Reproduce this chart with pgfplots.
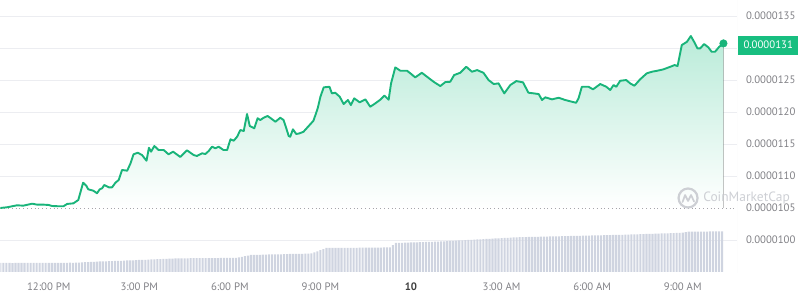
\documentclass[border=0pt]{standalone}
\usepackage{pgfplots}
\pgfplotsset{compat=1.18}
\usepgfplotslibrary{fillbetween}
\usepackage{pgfplotstable}
\usepackage{fontspec}
\setmainfont{PT Sans}
\definecolor{linegreen}{RGB}{25,180,122}
\definecolor{badgegreen}{RGB}{24,190,128}
\definecolor{labelgray}{RGB}{128,128,133}
\definecolor{gridgray}{RGB}{236,237,241}
\definecolor{volgray}{RGB}{207,212,224}
\definecolor{wmgray}{RGB}{205,207,212}
\definecolor{dotgray}{RGB}{165,165,170}

% price in units of 1e-7, time in hours after 12:00 PM
\pgfplotstableread{
h v
-1.60 105.00
-1.38 105.11
-1.05 105.42
-0.84 105.36
-0.55 105.67
-0.38 105.52
-0.17 105.52
0.00 105.47
0.11 105.31
0.32 105.27
0.49 105.27
0.61 105.63
0.82 105.73
0.98 106.25
1.14 108.95
1.25 108.44
1.31 107.92
1.48 107.70
1.60 107.30
1.69 107.92
1.77 108.08
1.84 108.59
1.99 108.23
2.10 108.23
2.21 108.95
2.32 109.38
2.43 110.94
2.60 110.83
2.71 111.98
2.81 113.39
2.95 113.64
3.09 113.28
3.24 112.39
3.32 114.42
3.39 113.80
3.50 114.69
3.64 114.06
3.81 114.06
3.97 113.39
4.12 113.80
4.36 112.97
4.58 114.02
4.80 113.28
4.91 113.13
5.08 113.55
5.19 113.44
5.30 113.91
5.41 114.58
5.52 114.33
5.63 114.58
5.79 114.06
5.91 114.06
6.02 115.73
6.13 115.52
6.24 116.14
6.35 117.19
6.46 117.03
6.57 119.69
6.66 117.81
6.81 117.45
6.92 119.02
7.01 118.75
7.12 119.11
7.25 119.38
7.36 119.02
7.51 118.48
7.67 119.11
7.78 118.75
7.87 117.45
7.95 116.25
8.00 116.14
8.09 117.30
8.20 116.56
8.31 116.67
8.44 116.92
8.61 117.81
8.77 118.64
8.91 120.58
9.00 122.39
9.11 123.86
9.30 123.95
9.38 122.92
9.49 123.02
9.64 122.39
9.77 121.25
9.91 121.88
10.01 121.09
10.12 122.14
10.30 121.52
10.49 121.98
10.65 120.83
10.82 121.36
10.98 121.92
11.12 122.58
11.26 121.92
11.34 124.48
11.48 126.98
11.65 126.45
11.87 126.45
11.98 126.05
12.14 125.42
12.36 126.14
12.53 125.52
12.75 124.73
12.97 124.06
13.14 124.69
13.30 124.73
13.43 125.78
13.63 126.14
13.83 127.08
14.02 126.30
14.19 126.56
14.40 126.14
14.57 125.00
14.74 124.38
14.90 124.48
15.09 122.92
15.29 124.22
15.49 124.84
15.71 124.64
15.89 123.02
16.06 122.92
16.23 122.81
16.34 121.88
16.45 122.30
16.67 121.98
16.89 122.23
17.11 121.88
17.33 121.61
17.47 121.45
17.55 122.14
17.66 123.95
17.88 123.95
18.03 123.55
18.27 124.38
18.47 123.95
18.60 123.44
18.71 124.22
18.80 123.95
18.93 124.89
19.13 125.00
19.26 124.48
19.40 124.11
19.59 125.11
19.81 126.05
19.98 126.30
20.15 126.45
20.36 126.67
20.59 127.08
20.73 127.34
20.83 127.19
20.97 130.47
21.14 130.98
21.27 131.88
21.36 131.14
21.49 129.95
21.58 129.95
21.71 130.63
21.85 130.11
21.96 129.42
22.07 129.42
22.21 130.20
22.35 130.73
}\pricetable

\begin{document}
\begin{tikzpicture}[x=1pt,y=1pt]
\begin{axis}[at={(0,0)}, anchor=south west, scale only axis,
  width=737pt, height=273pt,
  xmin=-1.60, xmax=22.80, ymin=94.84, ymax=137.5,
  axis line style={draw=none}, major tick length=0pt,
  xtick={0,3,6,9,12,15,18,21},
  xticklabels={12:00 PM,3:00 PM,6:00 PM,9:00 PM,{\color{black!75}\textbf{10}},3:00 AM,6:00 AM,9:00 AM},
  ytick={100,110,115,120,125,130,135},
  yticklabels={0.0000100,0.0000110,0.0000115,0.0000120,0.0000125,,0.0000135},
  extra y ticks={105}, extra y tick labels={0.0000105},
  extra y tick style={grid=none},
  yticklabel pos=right, ymajorgrids,
  grid style={gridgray, line width=0.8pt},
  tick label style={font=\fontsize{10.8}{12}\selectfont, text=labelgray},
  xticklabel style={yshift=-6.5pt},
  yticklabel style={anchor=west, xshift=5.5pt},
]
\addplot[draw=none, name path=price, forget plot] table[x=h,y=v] {\pricetable};
\addplot[draw=none, name path=base, forget plot] coordinates {(-1.60,105)(22.35,105)};
\addplot[top color=badgegreen!30, bottom color=white, draw=none] fill between[of=price and base];
\addplot[dotgray, line width=0.8pt, dash pattern=on 0.8pt off 3pt] coordinates {(-1.60,105)(22.80,105)};
\addplot[linegreen, line width=1.9pt, line join=round] table[x=h,y=v] {\pricetable};
\addplot[only marks, mark=*, mark size=3.8pt, mark options={fill=linegreen, draw=linegreen}] coordinates {(22.35,130.73)};
\draw[gridgray, line width=0.8pt] (rel axis cs:1,0) -- (rel axis cs:1,1);
\draw[gridgray, line width=0.8pt] (rel axis cs:0,0) -- (rel axis cs:1,0);
\end{axis}
\begin{axis}[at={(0,0)}, anchor=south west, scale only axis,
  width=737pt, height=273pt,
  xmin=-1.60, xmax=22.80, ymin=-1, ymax=272, hide axis]
\addplot[ybar, bar width=0.07, bar shift=0pt, fill=volgray, draw=none] coordinates {
(-1.6,9.0)(-1.5,9.0)(-1.4,9.1)(-1.3,9.0)(-1.2,8.9)(-1.1,9.0)(-1.0,9.1)(-0.9,9.0)(-0.8,9.0)(-0.7,9.1)(-0.6,9.0)(-0.5,9.0)(-0.4,9.1)(-0.3,9.2)(-0.2,9.1)(-0.1,9.0)(0.0,9.1)(0.1,9.2)(0.2,9.1)(0.3,9.2)(0.4,9.2)(0.5,9.1)(0.6,9.2)(0.7,9.3)(0.8,9.2)(0.9,9.3)(1.0,9.4)
(1.1,9.6)(1.2,9.8)(1.3,9.9)(1.4,10.1)(1.5,10.2)(1.6,10.4)(1.7,10.5)
(1.8,10.6)(1.9,10.7)(2.0,10.8)(2.1,10.9)(2.2,11.0)(2.3,11.1)(2.4,11.2)(2.5,11.3)(2.6,11.5)(2.7,11.6)(2.8,11.7)(2.9,11.8)(3.0,12.0)
(3.1,12.1)(3.2,12.2)(3.3,12.4)(3.4,12.5)(3.5,12.6)(3.6,12.8)(3.7,12.9)(3.8,13.0)(3.9,13.1)(4.0,13.3)(4.1,13.4)(4.2,13.5)(4.3,13.6)
(4.4,13.7)(4.5,13.7)(4.6,13.7)(4.7,13.8)(4.8,13.8)(4.9,13.8)(5.0,13.8)(5.1,13.8)(5.2,13.9)(5.3,13.9)(5.4,13.9)(5.5,13.9)(5.6,13.9)(5.7,14.0)(5.8,14.0)(5.9,14.0)(6.0,14.0)(6.1,14.0)(6.2,14.0)
(6.3,14.6)(6.4,15.2)(6.5,15.8)(6.6,16.4)(6.7,17.0)
(6.8,17.1)(6.9,17.2)(7.0,17.2)(7.1,17.3)(7.2,17.4)(7.3,17.5)(7.4,17.5)(7.5,17.6)(7.6,17.7)(7.7,17.7)(7.8,17.8)(7.9,17.9)(8.0,18.0)(8.1,18.0)(8.2,18.1)(8.3,18.2)(8.4,18.2)(8.5,18.3)(8.6,18.4)(8.7,18.5)
(8.8,19.6)(8.9,20.7)(9.0,21.8)(9.1,22.9)(9.2,24.0)
(9.3,24.0)(9.4,24.0)(9.5,24.1)(9.6,24.1)(9.7,24.1)(9.8,24.1)(9.9,24.2)(10.0,24.2)(10.1,24.2)(10.2,24.2)(10.3,24.3)(10.4,24.3)(10.5,24.3)(10.6,24.3)(10.7,24.4)(10.8,24.4)(10.9,24.4)(11.0,24.4)(11.1,24.5)(11.2,24.5)(11.3,24.5)
(11.4,26.8)(11.5,29.0)
(11.6,29.1)(11.7,29.2)(11.8,29.3)(11.9,29.4)(12.0,29.5)(12.1,29.6)(12.2,29.7)(12.3,29.8)(12.4,29.9)(12.5,30.0)(12.6,30.1)(12.7,30.2)(12.8,30.3)(12.9,30.4)(13.0,30.5)
(13.1,30.7)(13.2,30.8)(13.3,31.0)(13.4,31.2)(13.5,31.3)(13.6,31.5)
(13.7,31.7)(13.8,31.9)(13.9,32.0)(14.0,32.2)(14.1,32.4)(14.2,32.5)(14.3,32.7)(14.4,32.9)(14.5,33.0)(14.6,33.2)(14.7,33.4)(14.8,33.5)(14.9,33.7)(15.0,33.9)(15.1,34.0)(15.2,34.2)(15.3,34.4)(15.4,34.5)(15.5,34.7)
(15.6,34.8)(15.7,34.9)(15.8,34.9)(15.9,35.0)(16.0,35.1)(16.1,35.2)(16.2,35.2)(16.3,35.3)(16.4,35.4)(16.5,35.4)(16.6,35.5)(16.7,35.6)(16.8,35.6)(16.9,35.7)(17.0,35.8)(17.1,35.9)(17.2,35.9)(17.3,36.0)(17.4,36.1)(17.5,36.1)(17.6,36.2)(17.7,36.3)(17.8,36.3)(17.9,36.4)(18.0,36.5)(18.1,36.6)(18.2,36.6)(18.3,36.7)(18.4,36.8)(18.5,36.8)(18.6,36.9)(18.7,37.0)(18.8,37.0)
(18.9,37.1)(19.0,37.2)(19.1,37.3)(19.2,37.4)(19.3,37.5)(19.4,37.6)(19.5,37.7)(19.6,37.8)(19.7,37.9)(19.8,38.0)(19.9,38.1)(20.0,38.2)(20.1,38.3)(20.2,38.4)(20.3,38.5)(20.4,38.6)(20.5,38.7)(20.6,38.8)(20.7,38.9)(20.8,39.0)(20.9,39.1)(21.0,39.3)
(21.1,39.8)(21.2,40.3)
(21.3,40.3)(21.4,40.3)(21.5,40.4)(21.6,40.4)(21.7,40.4)(21.8,40.4)(21.9,40.5)(22.0,40.5)(22.1,40.5)(22.2,40.5)(22.3,40.5)
};
\end{axis}
% price badge
\node[fill=badgegreen, text=white, font=\fontsize{10.8}{12}\selectfont, minimum width=60pt, minimum height=19pt, inner sep=0pt, anchor=west] at (738,228) {0.0000131};
% watermark
\draw[wmgray, line width=2.2pt] (688,75) circle (9.5);
\draw[wmgray, line width=1.7pt, line join=round, line cap=round] (682.5,71) -- (685,78) -- (688,72) -- (691,78) -- (694,71.5);
\node[wmgray, font=\fontsize{13.5}{15}\selectfont, anchor=west, inner sep=0pt] at (703,75) {CoinMarketCap};
\path (0,-27) rectangle (800,273);
\end{tikzpicture}
\end{document}
